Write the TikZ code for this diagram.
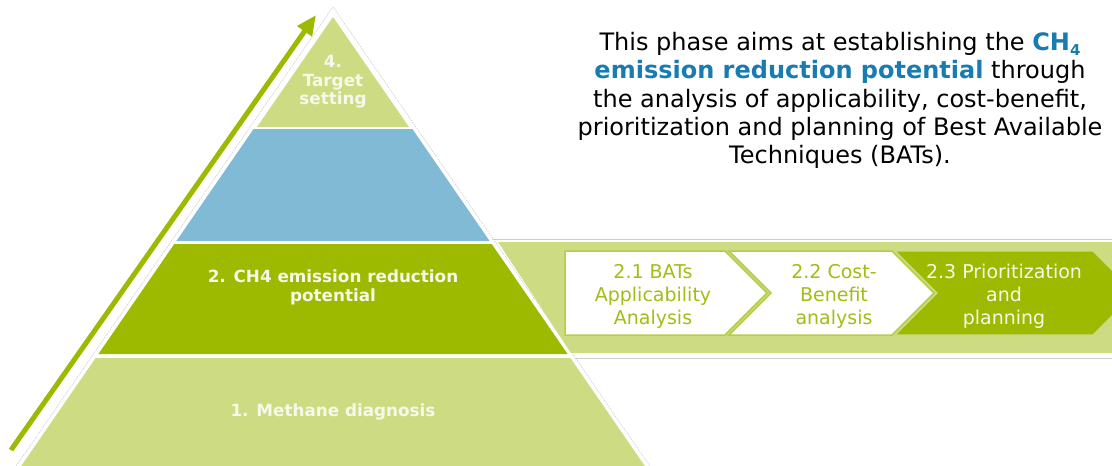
\documentclass[tikz,border=0pt]{standalone}
\usepackage{fontspec}
\setmainfont{DejaVu Sans}
\usetikzlibrary{arrows.meta}
\definecolor{lgreen}{RGB}{205,220,131}
\definecolor{dgreen}{RGB}{157,185,0}
\definecolor{pblue}{RGB}{128,186,213}
\definecolor{cborder}{RGB}{180,206,72}
\definecolor{ctext}{RGB}{160,190,20}
\definecolor{tblue}{RGB}{24,124,178}
\definecolor{lbltext}{RGB}{246,249,234}
\definecolor{gline}{RGB}{205,205,205}
\tikzset{
  pyrlabel/.style={text=lbltext, font=\fontsize{16.8}{18.5}\selectfont\bfseries, align=center, inner sep=0pt},
  chevtext/.style={text=ctext, font=\fontsize{19}{23}\selectfont, align=center, inner sep=0pt},
  chevtextw/.style={chevtext, text=lbltext},
  chevwhite/.style={fill=white, draw=cborder, line width=1.5pt, line join=miter},
  chevdark/.style={fill=dgreen, draw=lgreen, line width=1.2pt, line join=miter},
  arrowline/.style={draw=dgreen, line width=5pt, -{Triangle[length=20pt,width=17pt]}},
  outline/.style={draw=gline, line width=0.6pt, dash pattern=on 1.5pt off 1pt},
  sepline/.style={draw=gline, line width=1pt},
}
\begin{document}
\begin{tikzpicture}[x=1pt,y=-1pt]
\useasboundingbox (0,0) rectangle (1112,466);
\clip (0,0) rectangle (1112,466);
% faint outer outline of the pyramid
\draw[outline] (13.4,470) -- (333,6.8) -- (652.6,470);
% band behind layer 2
\fill[lgreen] (498,242) -- (1112,242) -- (1112,353) -- (571,353) -- cycle;
\draw[sepline] (492,239.5) -- (1112,239.5);
\draw[sepline] (575,358.5) -- (1112,358.5);
% pyramid layers
\fill[lgreen] (333,17) -- (409,127) -- (257,127) -- cycle;
\fill[pblue] (253.6,129) -- (412.4,129) -- (489.6,241) -- (176.4,241) -- cycle;
\fill[dgreen] (174.3,244) -- (491.7,244) -- (567.6,354) -- (98.4,354) -- cycle;
\fill[lgreen] (95.6,358) -- (570.4,358) -- (647.6,470) -- (18.4,470) -- cycle;
% labels
\node[pyrlabel] (l4) at (333,82) {4.\\Target\\setting};
\node[pyrlabel] (l2) at (333,287.5) {2. CH4 emission reduction\\potential};
\node[pyrlabel] (l1) at (333,412) {1. Methane diagnosis};
% arrow
\coordinate (arrS) at (11,450);
\coordinate (arrE) at (316,15);
\draw[arrowline] (arrS) -- (arrE);
% chevrons
\draw[chevwhite] (565,251) -- (725,251) -- (767,293) -- (725,335) -- (565,335) -- cycle;
\draw[chevwhite] (729,251) -- (892,251) -- (934,293) -- (892,335) -- (729,335) -- (771,293) -- cycle;
\draw[chevdark] (895,251) -- (1093,251) -- (1135,293) -- (1093,335) -- (895,335) -- (937,293) -- cycle;
\node[chevtext] (c1) at (653,296) {2.1 BATs\\Applicability\\Analysis};
\node[chevtext] (c2) at (834,296) {2.2 Cost-\\Benefit\\analysis};
\node[chevtextw] (c3) at (1004,296) {2.3 Prioritization\\and\\planning};
% description
\node[align=center, inner sep=0pt, font=\fontsize{24}{28.2}\selectfont] (desc) at (840,100.5)
 {This phase aims at establishing the \textcolor{tblue}{\bfseries CH\raisebox{-0.35ex}{\fontsize{15}{15}\selectfont 4}}\\
  \textcolor{tblue}{\bfseries emission reduction potential} through\\
  the analysis of applicability, cost-benefit,\\
  prioritization and planning of Best Available\\
  Techniques (BATs).};
\end{tikzpicture}
\end{document}
